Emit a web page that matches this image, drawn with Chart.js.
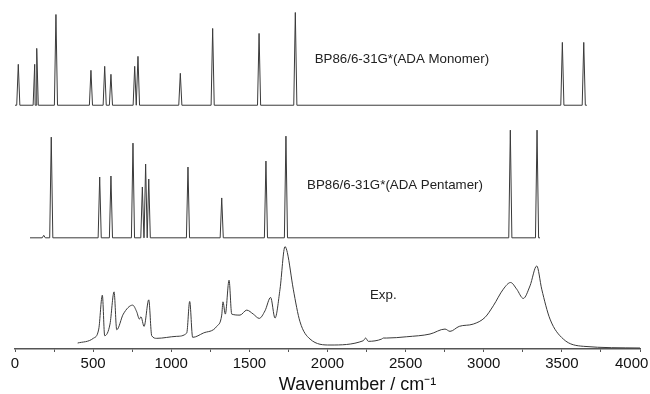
<!DOCTYPE html>
<html>
<head>
<meta charset="utf-8">
<script src="https://cdn.jsdelivr.net/npm/chart.js@4.4.1/dist/chart.umd.min.js"></script>
<style>
  html, body { margin: 0; padding: 0; background: #fff; }
  canvas { display: block; }
</style>
</head>
<body>
<canvas id="myChart" width="650" height="394"></canvas>
<script>
// calculated spectrum, monomer: peak positions (cm-1) and intensities (a.u.)
const monoPos = [21, 126, 139, 262, 486, 574, 614, 766, 787, 1058, 1265, 1562, 1794, 3503, 3640];
const monoInt = [41, 41, 57, 91, 35, 39, 31, 39, 49, 32, 77, 72, 93, 63, 63];
const monoRange = [0, 3660];

// calculated spectrum, pentamer
const pentPos = [184, 232, 542, 614, 755, 815, 836, 856, 1107, 1323, 1606, 1734, 3170, 3341];
const pentInt = [2.5, 101, 61, 62, 95, 51, 74, 59, 71, 40, 77, 102, 108, 108];
const pentRange = [96, 3360];

// experimental spectrum
const expWave = [401, 501, 536, 559, 574, 608, 634, 651, 693, 753, 779, 796, 806, 826, 856, 875, 907,
  1035, 1099, 1118, 1137, 1205, 1291, 1323, 1331, 1346, 1370, 1387, 1440, 1483, 1525, 1563, 1600,
  1636, 1664, 1696, 1728, 1743, 1781, 1824, 1888, 2016, 2229, 2244, 2261, 2347, 2357, 2379, 2507,
  2656, 2752, 2784, 2843, 2933, 3008, 3061, 3125, 3172, 3211, 3253, 3296, 3339, 3371, 3424, 3509,
  3637, 4000];
const expInt = [6, 10.7, 20, 54, 13.3, 25, 57.3, 19.3, 35, 44, 37.3, 30, 32.3, 22.7, 49.3, 13.3, 10.7,
  12.7, 16, 47.7, 11.7, 16, 22.7, 34, 47.3, 35, 69, 35, 34, 39, 35, 30.7, 38.3,
  51.7, 31, 60, 102.7, 96.7, 60, 27.3, 10, 4, 8.3, 11, 7.7, 10, 11, 11, 12.3,
  15, 20, 17.7, 22.7, 25, 31.7, 43.3, 60, 66.7, 60, 50.7, 63.3, 83.3, 60, 30, 10,
  2.7, 1];

const seriesNames = ['BP86/6-31G*(ADA Monomer)', 'BP86/6-31G*(ADA Pentamer)', 'Exp.'];
const xTicks = [0, 500, 1000, 1500, 2000, 2500, 3000, 3500, 4000];

// vertical stacking of the three traces
const monoOffset = 244.5;
const pentOffset = 111.5;
const footHalf = 10;

function stickSpectrum(pos, inten, range, offset) {
  const pts = [{x: range[0], y: offset}, {x: range[1], y: offset}];
  pos.forEach((p, i) => {
    pts.push({x: p - footHalf, y: offset});
    pts.push({x: p, y: offset + inten[i]});
    pts.push({x: p + footHalf, y: offset});
  });
  pts.sort((a, b) => a.x - b.x);
  return pts;
}

const labelAnchors = [
  {x: 1918, y: 291},
  {x: 1869, y: 164},
  {x: 2272, y: 54}
];

const labelPlugin = {
  id: 'traceLabels',
  afterDatasetsDraw(chart) {
    const {ctx, scales: {x, y}} = chart;
    ctx.save();
    ctx.font = '13.3px "Liberation Sans", Arial, sans-serif';
    ctx.fillStyle = '#222';
    ctx.textBaseline = 'middle';
    ctx.textAlign = 'left';
    seriesNames.forEach((name, i) => {
      ctx.fillText(name, x.getPixelForValue(labelAnchors[i].x), y.getPixelForValue(labelAnchors[i].y));
    });
    ctx.restore();
  }
};

const lineStyle = {
  borderColor: '#3a3a3a',
  borderWidth: 1,
  pointRadius: 0,
  fill: false
};

const ctx = document.getElementById('myChart');

new Chart(ctx, {
  type: 'line',
  data: {
    datasets: [
      {label: seriesNames[0], data: stickSpectrum(monoPos, monoInt, monoRange, monoOffset), tension: 0, ...lineStyle},
      {label: seriesNames[1], data: stickSpectrum(pentPos, pentInt, pentRange, pentOffset), tension: 0, ...lineStyle},
      {label: seriesNames[2], data: expWave.map((w, i) => ({x: w, y: expInt[i]})), cubicInterpolationMode: 'monotone', ...lineStyle}
    ]
  },
  plugins: [labelPlugin],
  options: {
    responsive: false,
    animation: false,
    events: [],
    layout: { padding: { left: 15, right: 10, top: 10, bottom: 0 } },
    plugins: { legend: { display: false }, tooltip: { enabled: false } },
    scales: {
      x: {
        type: 'linear',
        min: 0,
        max: 4000,
        afterFit(scale) {
          scale.paddingLeft = 0;
          scale.paddingRight = 0;
        },
        afterBuildTicks(scale) {
          const t = [];
          for (let v = 0; v <= 4000; v += 250) t.push({value: v});
          scale.ticks = t;
        },
        ticks: {
          autoSkip: false,
          maxRotation: 0,
          padding: 3,
          color: '#111',
          font: { family: '"Liberation Sans", Arial, sans-serif', size: 15, lineHeight: 1.2 },
          callback: (v) => {
            if (!xTicks.includes(v)) return '';
            return v === 4000 ? String(v) + '    ' : String(v);
          }
        },
        grid: { drawOnChartArea: false, drawTicks: true, tickLength: 3, color: '#555', lineWidth: 1 },
        border: { display: true, color: '#555', width: 1.5 },
        title: {
          display: true,
          text: '            Wavenumber / cm⁻¹',
          color: '#111',
          padding: { top: 0, bottom: 0 },
          font: { family: '"Liberation Sans", Arial, sans-serif', size: 18, lineHeight: 1 }
        }
      },
      y: { display: false, min: 0, max: 340 }
    }
  }
});
</script>
</body>
</html>
